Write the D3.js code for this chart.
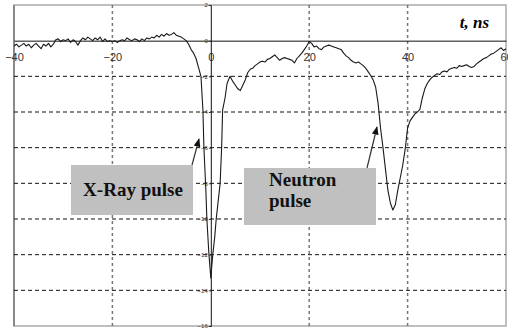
<!DOCTYPE html>
<html>
<head>
<meta charset="utf-8">
<script src="https://cdn.jsdelivr.net/npm/d3@7"></script>
<style>
    body { margin: 0; background: #fff; }
    .xaxis text { font: 11px "Liberation Sans", Arial, sans-serif; fill: #333; }
    .yaxis text { font: 6px "Liberation Sans", Arial, sans-serif; fill: #333; }
    .note { font-family: "Liberation Serif", "Times New Roman", serif; font-weight: bold; font-size: 19px; fill: #111; }
</style>
</head>
<body>
<script>
    // time axis (ns) and detector signal
    var times = [-40, -39.5, -39, -38.5, -38, -37.5, -37, -36.5, -36, -35.5, -35, -34.5, -34, -33.5, -33, -32.5, -32, -31.5, -31, -30.5,
        -30, -29.5, -29, -28.5, -28, -27.5, -27, -26.5, -26, -25.5, -25, -24.5, -24, -23.5, -23, -22.5, -22, -21.5, -21, -20.5,
        -20, -19.5, -19, -18.5, -18, -17.5, -17, -16.5, -16, -15.5, -15, -14.5, -14, -13.5, -13, -12.5, -12, -11.5, -11, -10.5,
        -10, -9.5, -9, -8.5, -8, -7.5, -7, -6.5, -6, -5.5, -5, -4.5, -4, -3.5, -3, -2.5, -2, -1.6, -1.4, -1, -0.8, -0.4,
        0, 0.4, 0.8, 1.1, 1.5, 1.9, 2.2, 2.4, 2.9, 3.3, 3.9, 4.5, 5, 5.5, 6, 6.5, 7, 7.5, 8, 8.5, 9, 9.5,
        10, 10.5, 11, 11.5, 12, 12.5, 13, 13.5, 14, 14.5, 15, 15.5, 16, 16.5, 17, 17.5, 18, 18.5, 19, 19.5,
        20, 20.5, 21, 21.5, 22, 22.5, 23, 23.5, 24, 24.5, 25, 25.5, 26, 26.5, 27, 27.5, 28, 28.5, 29, 29.5,
        30, 30.5, 31, 31.5, 32, 32.5, 33, 33.5, 34, 34.5, 35, 35.5, 36, 36.5, 37, 37.5, 38, 38.5, 39, 39.5,
        40, 40.5, 41, 41.5, 42, 42.5, 43, 43.5, 44, 44.5, 45, 45.5, 46, 46.5, 47, 47.5, 48, 48.5, 49, 49.5,
        50, 50.5, 51, 51.5, 52, 52.5, 53, 53.5, 54, 54.5, 55, 55.5, 56, 56.5, 57, 57.5, 58, 58.5, 59, 59.5, 60];
    var signal = [-0.3, -0.2, -0.35, -0.25, -0.15, -0.3, -0.2, -0.4, -0.25, -0.15, -0.3, -0.45, -0.2, -0.3, -0.15, -0.35, -0.2, 0.05, 0.1, -0.05,
        0.05, 0, 0.1, -0.1, 0.05, -0.05, -0.25, 0, 0.15, 0.05, 0.2, 0.1, 0, 0.15, 0.05, 0.2, -0.05, 0.1, -0.05, 0,
        -0.05, 0, -0.1, 0, 0.05, 0, 0.15, 0.05, 0, 0.1, 0.05, -0.05, 0.1, 0, 0.15, 0.1, 0.2, 0.15, 0.3, 0.2,
        0.35, 0.25, 0.4, 0.3, 0.35, 0.45, 0.3, 0.25, 0.2, 0.1, 0, -0.2, -0.5, -0.7, -1, -1.5, -2, -3.9, -6, -8.4, -10, -11.9,
        -13.3, -12, -11, -10, -9, -8, -6, -3.9, -3.2, -2.4, -2, -2.3, -2.5, -2.7, -2.8, -2.5, -2.2, -1.8, -1.6, -1.55, -1.4, -1.3,
        -1.2, -1.15, -1.2, -1.05, -1, -0.9, -0.8, -0.95, -1.1, -1, -0.95, -1, -1.05, -1.1, -1.25, -1, -0.85, -0.7, -0.5, -0.3,
        -0.05, -0.15, -0.35, -0.3, -0.45, -0.5, -0.35, -0.3, -0.25, -0.3, -0.35, -0.4, -0.45, -0.5, -0.7, -0.85, -0.95, -1.1, -1.2, -1.25,
        -1.2, -1.3, -1.4, -1.55, -1.75, -1.95, -2.2, -2.6, -3.5, -4.9, -6, -7.2, -8.4, -9.1, -9.5, -9.2, -8.4, -7.7, -7, -6.1,
        -4.9, -4.5, -4.3, -4.1, -4, -3.85, -3.2, -2.7, -2.4, -2.2, -2.05, -1.95, -1.85, -1.9, -1.75, -1.7, -1.75, -1.6, -1.55, -1.5,
        -1.55, -1.4, -1.45, -1.4, -1.35, -1.45, -1.5, -1.45, -1.3, -1.2, -1.1, -1, -0.95, -0.85, -0.75, -0.7, -0.6, -0.5, -0.4, -0.55, -0.45];

    var xTicks = [-40, -20, 0, 20, 40, 60];
    var yTicks = [2, 0, -2, -4, -6, -8, -10, -12, -14, -16];
    var xGrid = [-20, 20, 40];
    var yGrid = [-2, -4, -6, -8, -10, -12, -14];

    var width = 508, height = 330;

    var x = d3.scaleLinear().domain([-40, 60]).range([14, 506]);
    var y = d3.scaleLinear().domain([-16, 2]).range([326, 5]);

    var svg = d3.select("body").append("svg")
        .attr("width", width)
        .attr("height", height);

    // plot frame
    svg.append("rect")
        .attr("x", x(-40)).attr("y", y(2))
        .attr("width", x(60) - x(-40)).attr("height", y(-16) - y(2))
        .attr("fill", "none").attr("stroke", "#aaa").attr("stroke-width", 1.5);
    svg.append("line")
        .attr("x1", x(-40)).attr("x2", x(-40))
        .attr("y1", y(2)).attr("y2", y(-16))
        .attr("stroke", "#666").attr("stroke-width", 1.2);

    // grid lines
    svg.selectAll(".hgrid").data(yGrid).enter().append("line")
        .attr("class", "hgrid")
        .attr("x1", x(-40)).attr("x2", x(60))
        .attr("y1", function (d) { return y(d); })
        .attr("y2", function (d) { return y(d); })
        .attr("stroke", "#111").attr("stroke-dasharray", "4,3");

    svg.selectAll(".vgrid").data(xGrid).enter().append("line")
        .attr("class", "vgrid")
        .attr("y1", y(2)).attr("y2", y(-16))
        .attr("x1", function (d) { return x(d); })
        .attr("x2", function (d) { return x(d); })
        .attr("stroke", "#777").attr("stroke-width", 1.5).attr("stroke-dasharray", "3,3");

    // axes crossing at the origin
    var xAxis = svg.append("g")
        .attr("class", "xaxis")
        .attr("transform", "translate(0," + y(0) + ")")
        .call(d3.axisBottom(x).tickValues(xTicks).tickSize(0).tickPadding(13));
    xAxis.select(".domain").attr("stroke", "#111");

    var yAxis = svg.append("g")
        .attr("class", "yaxis")
        .attr("transform", "translate(" + x(0) + ",0)")
        .call(d3.axisLeft(y).tickValues(yTicks).tickSize(2).tickPadding(1));
    yAxis.select(".domain").attr("stroke", "#111");
    yAxis.selectAll(".tick line").attr("stroke", "#333");

    // signal trace
    var pts = times.map(function (t, i) { return [t, signal[i]]; });
    var line = d3.line()
        .x(function (d) { return x(d[0]); })
        .y(function (d) { return y(d[1]); });
    svg.append("path")
        .datum(pts)
        .attr("d", line)
        .attr("fill", "none")
        .attr("stroke", "#1a1a1a")
        .attr("stroke-width", 1.1)
        .attr("stroke-linejoin", "round");

    // axis title
    svg.append("text")
        .attr("x", 489).attr("y", 28)
        .attr("text-anchor", "end")
        .style("font-family", "'Liberation Serif', 'Times New Roman', serif")
        .style("font-weight", "bold").style("font-style", "italic")
        .style("font-size", "17px")
        .text("t, ns");

    // arrow marker
    svg.append("defs").append("marker")
        .attr("id", "head")
        .attr("viewBox", "0 0 10 10")
        .attr("refX", 9).attr("refY", 5)
        .attr("markerWidth", 7).attr("markerHeight", 7)
        .attr("orient", "auto")
        .append("path")
        .attr("d", "M0,1 L10,5 L0,9 Z")
        .attr("fill", "#111");

    // X-ray callout
    svg.append("rect")
        .attr("x", 71).attr("y", 165).attr("width", 122).attr("height", 50)
        .attr("fill", "#c0c0c0");
    svg.append("text").attr("class", "note")
        .attr("x", 133).attr("y", 196).attr("text-anchor", "middle")
        .text("X-Ray pulse");
    svg.append("line")
        .attr("x1", 192).attr("y1", 165).attr("x2", 199).attr("y2", 139)
        .attr("stroke", "#333").attr("stroke-width", 1.2)
        .attr("marker-end", "url(#head)");

    // neutron callout
    svg.append("rect")
        .attr("x", 244).attr("y", 168).attr("width", 132).attr("height", 57)
        .attr("fill", "#c0c0c0");
    svg.append("text").attr("class", "note")
        .attr("x", 269).attr("y", 186).text("Neutron");
    svg.append("text").attr("class", "note")
        .attr("x", 269).attr("y", 207).text("pulse");
    svg.append("line")
        .attr("x1", 367).attr("y1", 168).attr("x2", 377).attr("y2", 127)
        .attr("stroke", "#333").attr("stroke-width", 1.2)
        .attr("marker-end", "url(#head)");
</script>
</body>
</html>
